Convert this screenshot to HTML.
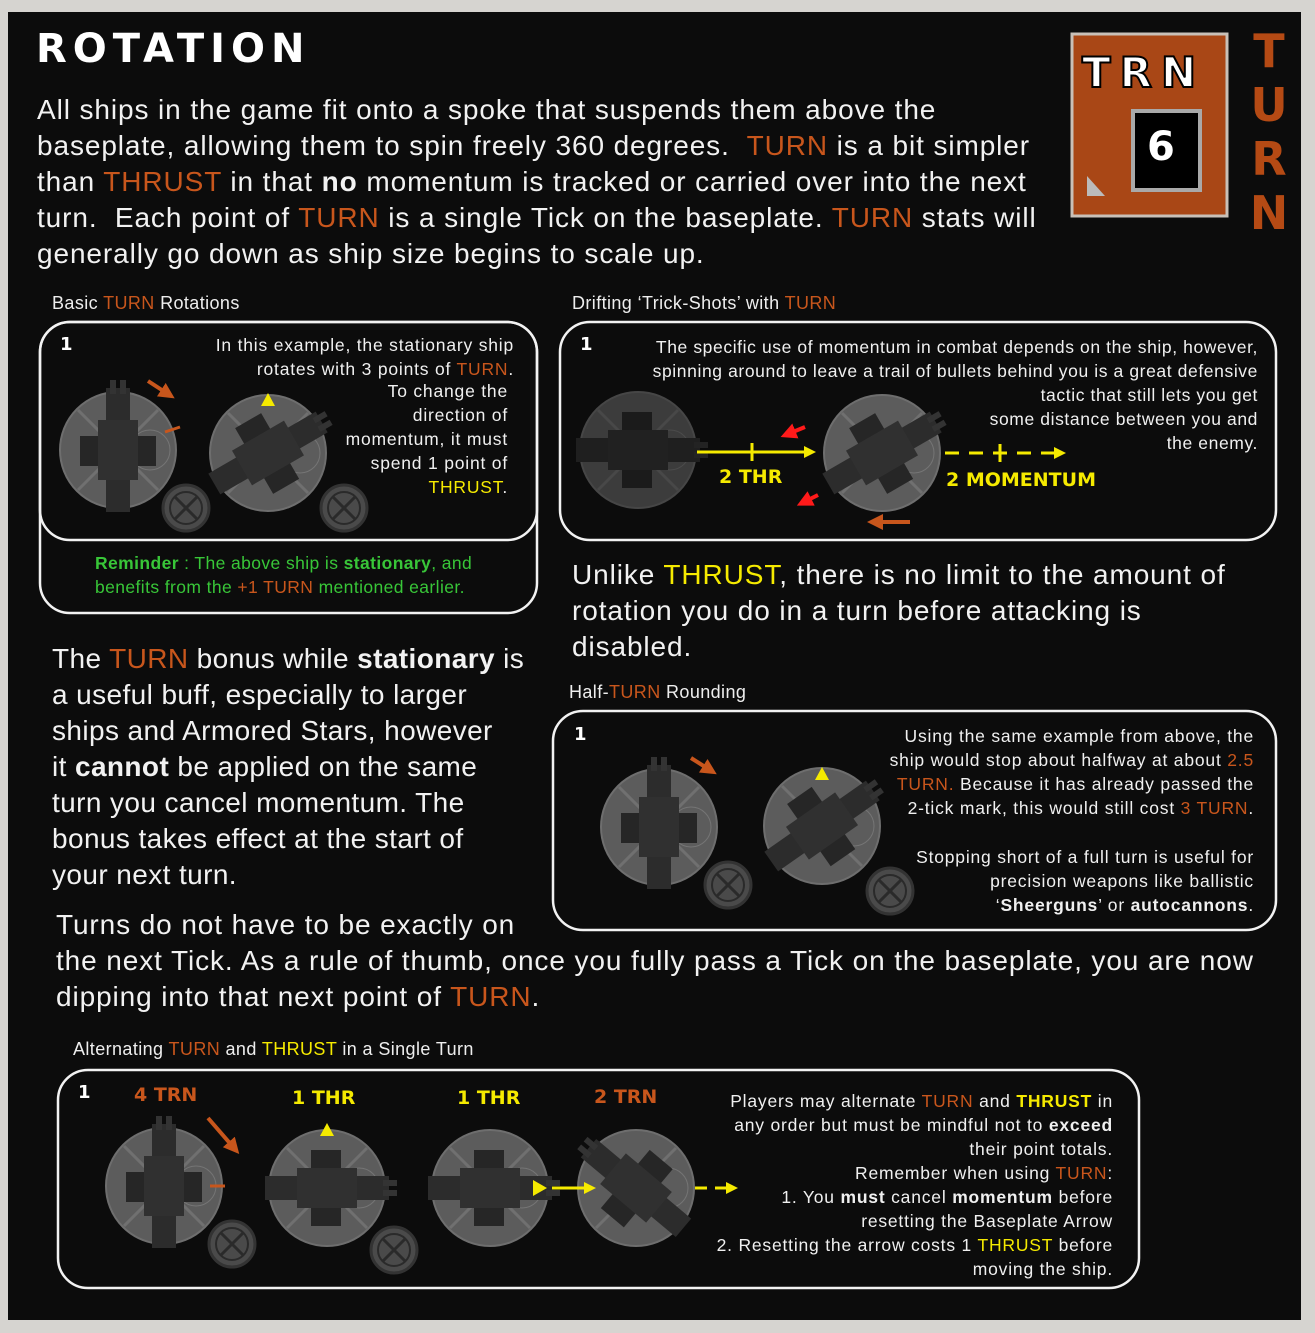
<!DOCTYPE html>
<html><head><meta charset="utf-8"><style>
*{margin:0;padding:0;box-sizing:border-box}
body{width:1315px;height:1333px;background:#d6d4d0;position:relative;overflow:hidden;font-family:"Liberation Sans",sans-serif;color:#fff}
#bg{position:absolute;left:8px;top:12px;width:1293px;height:1308px;background:#0c0c0c}
.t{position:absolute;white-space:nowrap}
.o{color:#c8561c}.y{color:#f5ea00}.g{color:#38c638}
.big{font-size:28px;line-height:36px;color:#f2f2f2;letter-spacing:0.9px}
.lab{font-size:18px;color:#eee;letter-spacing:0.4px}
.sm{font-size:17.5px;line-height:24px;text-align:right;color:#f0f0f0;letter-spacing:0.8px}
.hd{font-family:"DejaVu Sans",sans-serif;font-weight:bold}
</style></head><body>
<div id="bg"></div>
<svg width="1315" height="1333" style="position:absolute;left:0;top:0">
<defs>
<g id="disc"><circle r="58" fill="#5c5c5c" stroke="#6e6e6e" stroke-width="2"/><line x1="-40" y1="-40" x2="40" y2="40" stroke="#707070" stroke-width="3"/><line x1="40" y1="-40" x2="-40" y2="40" stroke="#707070" stroke-width="3"/><circle cx="32" r="20" fill="none" stroke="#757575"/></g>
<g id="ship"><rect x="-12" y="-62" width="24" height="124" fill="#2c2c2c"/><rect x="-38" y="-14" width="76" height="30" fill="#262626"/><rect x="-8" y="-70" width="6" height="14" fill="#333"/><rect x="2" y="-70" width="6" height="14" fill="#333"/><rect x="-20" y="-30" width="40" height="60" fill="#303030"/></g>
<g id="x"><circle r="23" fill="#4a4a4a" stroke="#333" stroke-width="3"/><circle r="16" fill="none" stroke="#2a2a2a" stroke-width="2"/><line x1="-11" y1="-11" x2="11" y2="11" stroke="#2a2a2a" stroke-width="3"/><line x1="11" y1="-11" x2="-11" y2="11" stroke="#2a2a2a" stroke-width="3"/></g>
<marker id="ao" markerWidth="4" markerHeight="4" refX="2" refY="2" orient="auto"><path d="M0,0L4,2L0,4z" fill="#c8561c"/></marker>
<marker id="ar" markerWidth="4" markerHeight="4" refX="2" refY="2" orient="auto"><path d="M0,0L4,2L0,4z" fill="#ff1a1a"/></marker>
<marker id="ay" markerWidth="4" markerHeight="4" refX="2" refY="2" orient="auto"><path d="M0,0L4,2L0,4z" fill="#f5ea00"/></marker>
</defs>
<g fill="none" stroke="#f2f2f2" stroke-width="2.5">
<rect x="40" y="322" width="497" height="291" rx="30"/>
<rect x="40" y="322" width="497" height="218" rx="30"/>
<rect x="560" y="322" width="716" height="218" rx="30"/>
<rect x="553" y="711" width="723" height="219" rx="30"/>
<rect x="58" y="1070" width="1081" height="218" rx="30"/>
</g>
<rect x="1072" y="34" width="155" height="182" fill="#a94716" stroke="#c9c0b8" stroke-width="3"/>
<rect x="1133" y="111" width="67" height="79" fill="#000" stroke="#a9a9a9" stroke-width="4"/>
<path d="M1087,176L1087,196L1105,196z" fill="#bbb"/>
<use href="#disc" x="118" y="450"/><use href="#ship" x="118" y="450"/>
<use href="#disc" x="268" y="453"/><use href="#ship" transform="translate(268,453) rotate(60)"/>
<use href="#x" x="186" y="508"/><use href="#x" x="344" y="508"/>
<line x1="148" y1="381" x2="168" y2="394" stroke="#c8561c" stroke-width="4" marker-end="url(#ao)"/>
<line x1="165" y1="432" x2="180" y2="427" stroke="#c8561c" stroke-width="3"/>
<path d="M268,393L261,406L275,406z" fill="#f5ea00"/>
<g opacity="0.6"><use href="#disc" x="638" y="450"/><use href="#ship" transform="translate(638,450) rotate(90)"/></g>
<use href="#disc" x="882" y="453"/><use href="#ship" transform="translate(882,453) rotate(60)"/>
<line x1="697" y1="452" x2="810" y2="452" stroke="#f5ea00" stroke-width="3" marker-end="url(#ay)"/>
<line x1="752" y1="443" x2="752" y2="461" stroke="#f5ea00" stroke-width="3"/>
<line x1="945" y1="453" x2="1060" y2="453" stroke="#f5ea00" stroke-width="3" stroke-dasharray="14,10" marker-end="url(#ay)"/>
<line x1="1000" y1="444" x2="1000" y2="462" stroke="#f5ea00" stroke-width="3"/>
<line x1="805" y1="427" x2="788" y2="434" stroke="#ff1a1a" stroke-width="4" marker-end="url(#ar)"/>
<line x1="818" y1="495" x2="804" y2="502" stroke="#ff1a1a" stroke-width="4" marker-end="url(#ar)"/>
<line x1="910" y1="522" x2="875" y2="522" stroke="#c8561c" stroke-width="4" marker-end="url(#ao)"/>
<use href="#disc" x="659" y="827"/><use href="#ship" x="659" y="827"/>
<use href="#disc" x="822" y="826"/><use href="#ship" transform="translate(822,826) rotate(55)"/>
<use href="#x" x="728" y="885"/><use href="#x" x="890" y="891"/>
<line x1="691" y1="758" x2="710" y2="770" stroke="#c8561c" stroke-width="4" marker-end="url(#ao)"/>
<path d="M822,767L815,780L829,780z" fill="#f5ea00"/>
<use href="#disc" x="164" y="1186"/><use href="#ship" x="164" y="1186"/>
<use href="#disc" x="327" y="1188"/><use href="#ship" transform="translate(327,1188) rotate(90)"/>
<use href="#disc" x="490" y="1188"/><use href="#ship" transform="translate(490,1188) rotate(90)"/>
<use href="#disc" x="636" y="1188"/><use href="#ship" transform="translate(636,1188) rotate(-50)"/>
<use href="#x" x="232" y="1244"/><use href="#x" x="394" y="1250"/>
<line x1="208" y1="1118" x2="234" y2="1148" stroke="#c8561c" stroke-width="4" marker-end="url(#ao)"/>
<line x1="210" y1="1186" x2="225" y2="1186" stroke="#c8561c" stroke-width="3"/>
<path d="M327,1123L320,1136L334,1136z" fill="#f5ea00"/>
<path d="M533,1180L547,1188L533,1196z" fill="#f5ea00"/>
<line x1="552" y1="1188" x2="590" y2="1188" stroke="#f5ea00" stroke-width="3" marker-end="url(#ay)"/>
<line x1="695" y1="1188" x2="732" y2="1188" stroke="#f5ea00" stroke-width="3" stroke-dasharray="12,8" marker-end="url(#ay)"/>
</svg>

<div class="t hd" style="left:36px;top:26px;font-size:40px;letter-spacing:6px;font-weight:900">ROTATION</div>
<div class="t hd" style="left:1082px;top:48px;font-size:42px;color:#fff;-webkit-text-stroke:2px #000;letter-spacing:9px">TRN</div>
<div class="t hd" style="left:1147px;top:124px;font-size:40px">6</div>
<div class="t hd" style="left:1249px;top:24px;font-size:46px;line-height:54px;color:#b54a14;white-space:normal;width:40px;text-align:center">T U R N</div>

<div class="t big" style="left:37px;top:92px">All ships in the game fit onto a spoke that suspends them above the<br>baseplate, allowing them to spin freely 360 degrees.&nbsp; <span class="o">TURN</span> is a bit simpler<br>than <span class="o">THRUST</span> in that <b>no</b> momentum is tracked or carried over into the next<br>turn.&nbsp; Each point of <span class="o">TURN</span> is a single Tick on the baseplate. <span class="o">TURN</span> stats will<br>generally go down as ship size begins to scale up.</div>

<div class="t lab" style="left:52px;top:293px">Basic <span class="o">TURN</span> Rotations</div>
<div class="t lab" style="left:572px;top:293px">Drifting ‘Trick-Shots’ with <span class="o">TURN</span></div>
<div class="t lab" style="left:569px;top:682px">Half-<span class="o">TURN</span> Rounding</div>
<div class="t lab" style="left:73px;top:1039px">Alternating <span class="o">TURN</span> and <span class="y">THRUST</span> in a Single Turn</div>

<div class="t hd" style="left:60px;top:334px;font-size:18px">1</div>
<div class="t hd" style="left:580px;top:334px;font-size:18px">1</div>
<div class="t hd" style="left:574px;top:724px;font-size:18px">1</div>
<div class="t hd" style="left:78px;top:1082px;font-size:18px">1</div>

<div class="t sm" style="right:801px;top:333px">In this example, the stationary ship<br>rotates with 3 points of <span class="o">TURN</span>.</div>
<div class="t sm" style="right:807px;top:379px">To change the<br>direction of<br>momentum, it must<br>spend 1 point of<br><span class="y">THRUST</span>.</div>
<div class="t" style="left:95px;top:551px;font-size:17.5px;line-height:24px;letter-spacing:0.4px"><span class="g"><b>Reminder</b> : The above ship is <b>stationary</b>, and<br>benefits from the <span class="o">+1 TURN</span> mentioned earlier.</span></div>

<div class="t sm" style="right:57px;top:335px;letter-spacing:0.6px">The specific use of momentum in combat depends on the ship, however,<br>spinning around to leave a trail of bullets behind you is a great defensive<br>tactic that still lets you get<br>some distance between you and<br>the enemy.</div>
<div class="t hd y" style="left:719px;top:466px;font-size:19px">2 THR</div>
<div class="t hd y" style="left:946px;top:469px;font-size:19px">2 MOMENTUM</div>

<div class="t big" style="left:572px;top:557px">Unlike <span class="y">THRUST</span>, there is no limit to the amount of<br>rotation you do in a turn before attacking is<br>disabled.</div>

<div class="t sm" style="right:61px;top:724px">Using the same example from above, the<br>ship would stop about halfway at about <span class="o">2.5<br>TURN.</span> Because it has already passed the<br>2-tick mark, this would still cost <span class="o">3 TURN</span>.</div>
<div class="t sm" style="right:61px;top:845px">Stopping short of a full turn is useful for<br>precision weapons like ballistic<br>‘<b>Sheerguns</b>’ or <b>autocannons</b>.</div>

<div class="t big" style="left:52px;top:641px;letter-spacing:0.4px">The <span class="o">TURN</span> bonus while <b>stationary</b> is<br>a useful buff, especially to larger<br>ships and Armored Stars, however<br>it <b>cannot</b> be applied on the same<br>turn you cancel momentum. The<br>bonus takes effect at the start of<br>your next turn.</div>
<div class="t big" style="left:56px;top:907px">Turns do not have to be exactly on<br>the next Tick. As a rule of thumb, once you fully pass a Tick on the baseplate, you are now<br>dipping into that next point of <span class="o">TURN</span>.</div>

<div class="t hd o" style="left:134px;top:1084px;font-size:19px">4 TRN</div>
<div class="t hd y" style="left:292px;top:1087px;font-size:19px">1 THR</div>
<div class="t hd y" style="left:457px;top:1087px;font-size:19px">1 THR</div>
<div class="t hd o" style="left:594px;top:1086px;font-size:19px">2 TRN</div>
<div class="t sm" style="right:202px;top:1089px">Players may alternate <span class="o">TURN</span> and <b class="y">THRUST</b> in<br>any order but must be mindful not to <b>exceed</b><br>their point totals.<br>Remember when using <span class="o">TURN</span>:<br>1. You <b>must</b> cancel <b>momentum</b> before<br>resetting the Baseplate Arrow<br>2. Resetting the arrow costs 1 <span class="y">THRUST</span> before<br>moving the ship.</div>
</body></html>
